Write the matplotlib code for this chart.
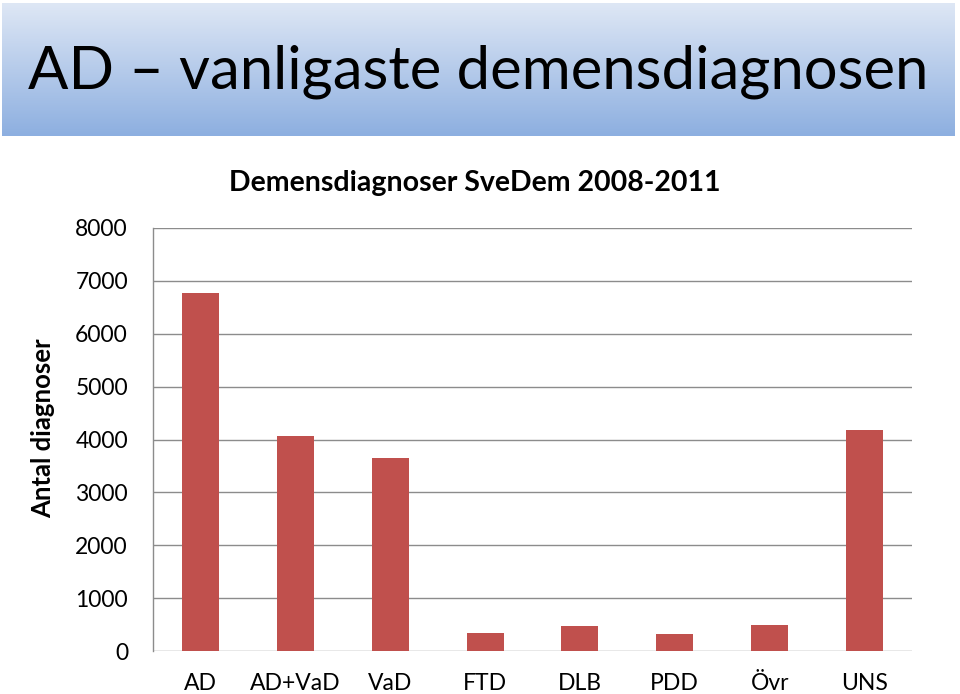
import numpy as np
import matplotlib
matplotlib.use("Agg")
import matplotlib.pyplot as plt

categories = ["AD", "AD+VaD", "VaD", "FTD", "DLB", "PDD", "Övr", "UNS"]
values = [6775, 4070, 3655, 340, 475, 316, 498, 4180]
yticks = [0, 1000, 2000, 3000, 4000, 5000, 6000, 7000, 8000]

plt.rcParams['font.family'] = ['Lato', 'DejaVu Sans']

fig = plt.figure(figsize=(9.6, 6.94), dpi=100)
fig.patch.set_facecolor("white")

# banner
bax = fig.add_axes([2/960, 1 - 136/694, 953/960, 133/694])
grad = np.linspace(0, 1, 256).reshape(-1, 1)
c_top = np.array([0xde, 0xe7, 0xf5]) / 255
c_bot = np.array([0x8d, 0xaf, 0xe0]) / 255
img = c_top[None, None, :] * (1 - grad[:, :, None]) + c_bot[None, None, :] * grad[:, :, None]
bax.imshow(img, aspect="auto", extent=[0, 1, 0, 1], origin="upper")
bax.set_axis_off()
bax.text(0.5, 0.48, "AD – vanligaste demensdiagnosen", ha="center", va="center",
         fontsize=43, color="black", transform=bax.transAxes)

ax = fig.add_axes([153/960, 43/694, 759/960, 423/694])
x = np.arange(len(categories))
ax.bar(x, values, width=0.39, color="#c0504d", zorder=3)
ax.set_xlim(-0.5, len(categories) - 0.5)
ax.set_ylim(0, 8000)
ax.set_yticks(yticks)
ax.set_yticklabels([str(v) for v in yticks], fontsize=16.5)
ax.set_xticks(x)
ax.set_xticklabels(categories, fontsize=16.5)
ax.tick_params(axis="y", length=0, pad=18)
ax.tick_params(axis="x", length=0, pad=16)
ax.grid(axis="y", color="#8c8c8c", linewidth=1.0, zorder=0)
for s in ["top", "right", "bottom"]:
    ax.spines[s].set_visible(False)
ax.spines["left"].set_color("#8c8c8c")
ax.spines["left"].set_linewidth(1.0)

fig.text(475/960, 1 - 183/694, "Demensdiagnoser SveDem 2008-2011", ha="center", va="center",
         fontsize=20.5, fontweight="bold")
fig.text(43/960, 1 - 428/694, "Antal diagnoser", ha="center", va="center",
         rotation=90, fontsize=18.5, fontweight="bold")

fig.savefig("out.png", dpi=100)
